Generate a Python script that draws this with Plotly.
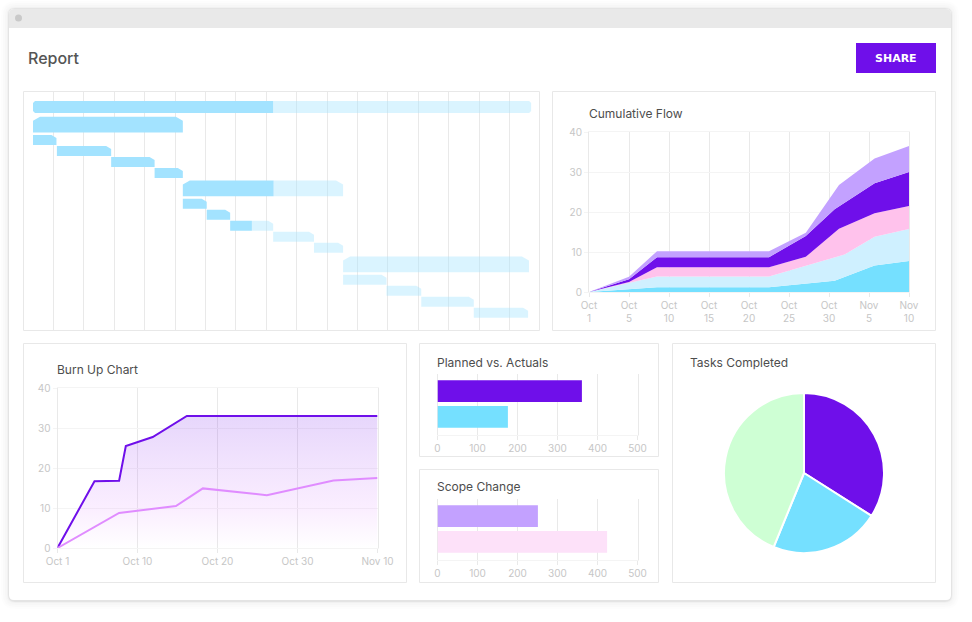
import plotly.graph_objects as go

W, H = 972, 622
PURPLE = "#6F0FEA"
CYAN = "#75E0FF"
LIGHT_BLUE = "#CFF0FF"
PINK = "#FFC2EC"
LILAC = "#C3A1FF"
GANTT_DONE = "#A3E3FF"
GANTT_TODO = "rgba(163,227,255,0.4)"
BORDER = "#E8E8E8"
GRID_X = "#E9E9E9"
GRID_Y = "#F4F4F4"
TICK = "#C6C6C6"
TITLE = "#4D4D4D"
UI_FONT = "Inter"
TITLE_FONT = "Inter"

# Gantt: days from project start, row position, bar kind
gantt_start = [0, 0, 0, 5.5, 18, 28, 34.5, 34.5, 40, 45.4, 55.3, 64.7, 71.4, 71.4, 81.4, 89.4, 101.5]
gantt_done = [55.3, 34.5, 5.4, 18, 28, 34.5, 55.4, 40, 45.4, 50.4, 55.3, 64.7, 71.4, 71.4, 81.4, 89.4, 101.5]
gantt_end = [114.7, 34.5, 5.4, 18, 28, 34.5, 71.4, 40, 45.4, 55.3, 64.7, 71.4, 114.2, 81.4, 89.4, 101.5, 114]
gantt_row = [0, 1.6, 3, 4, 5, 6, 7.4, 8.8, 9.8, 10.8, 11.8, 12.8, 14.3, 15.7, 16.7, 17.7, 18.7]
gantt_kind = ["project", "group", "task", "task", "task", "task", "group", "task", "task",
              "task", "task", "task", "group", "task", "task", "task", "task"]

# Cumulative flow: top edge of each stacked band
flow_ticks = ["Oct<br>1", "Oct<br>5", "Oct<br>10", "Oct<br>15", "Oct<br>20", "Oct<br>25", "Oct<br>30", "Nov<br>5", "Nov<br>10"]
flow_done_x = [0, 1, 1.7, 4.5, 6.14, 7.14, 8]
flow_done = [0, 0.6, 1.2, 1.2, 2.8, 6.6, 7.75]
flow_review_x = [0, 1, 1.7, 4.5, 6.39, 7.14, 8]
flow_review = [0, 2.3, 3.9, 3.9, 9.4, 13.8, 15.75]
flow_testing_x = [0, 1, 1.7, 4.5, 5.42, 6.25, 7.14, 8]
flow_testing = [0, 2.5, 6.2, 6.2, 8.8, 15.8, 19.7, 21.5]
flow_doing_x = [0, 1, 1.7, 4.5, 5.42, 6.14, 7.14, 8]
flow_doing = [0, 3.2, 8.7, 8.7, 14, 20.7, 27.2, 30]
flow_todo_x = [0, 1, 1.7, 4.5, 5.42, 6.25, 7.14, 8]
flow_todo = [0, 3.8, 10.2, 10.2, 14.8, 26.75, 33.4, 36.5]

# Burn up
burn_ticks = ["Oct 1", "Oct 10", "Oct 20", "Oct 30", "Nov 10"]
scope_x = [0, 0.4625, 0.77, 0.854, 1.19, 1.617, 4]
scope_y = [0, 16.7, 16.8, 25.5, 27.75, 33, 33]
done_x = [0, 0.77, 1.48, 1.817, 2.617, 3.45, 4]
done_y = [0, 8.75, 10.5, 14.9, 13.2, 16.85, 17.5]

# Bars and pie
planned_labels = ["Planned", "Actuals"]
planned_values = [361, 176]
scope_labels = ["Added", "Removed"]
scope_values = [251, 424]
pie_labels = ["Completed", "In progress", "Remaining"]
pie_values = [34, 22.2, 43.8]


def px_x(x):
    return x / W


def px_y(y):
    return 1 - y / H


def dom_x(a, b):
    return [px_x(a), px_x(b)]


def dom_y(top, bottom):
    return [px_y(bottom), px_y(top)]


def round_rect(x0, y0, x1, y1, r, top_only=False):
    a, b, c, d = px_x(x0), px_y(y0), px_x(x1), px_y(y1)
    rx, ry = r / W, r / H
    p = f"M{a},{b - ry} Q{a},{b} {a + rx},{b} L{c - rx},{b} Q{c},{b} {c},{b - ry} "
    if top_only:
        p += f"L{c},{d} L{a},{d} Z"
    else:
        p += f"L{c},{d + ry} Q{c},{d} {c - rx},{d} L{a + rx},{d} Q{a},{d} {a},{d + ry} Z"
    return p


fig = go.Figure()

# page furniture
shapes = []
for grow, alpha in [(8, 0.008), (6, 0.01), (4, 0.012), (2, 0.025), (1, 0.05)]:
    shapes.append(dict(type="path", xref="paper", yref="paper", layer="below", line_width=0,
                       fillcolor=f"rgba(0,0,0,{alpha})",
                       path=round_rect(9 - grow, 9 - grow, 951 + grow, 600 + grow + 1, 6 + grow)))
shapes.append(dict(type="path", xref="paper", yref="paper", layer="below", line_width=0,
                   fillcolor="white", path=round_rect(9, 9, 951, 600, 5)))
shapes.append(dict(type="path", xref="paper", yref="paper", layer="below", line_width=0,
                   fillcolor="#E9E9E9", path=round_rect(9, 9, 951, 28, 5, top_only=True)))
shapes.append(dict(type="circle", xref="paper", yref="paper", layer="below", line_width=0,
                   fillcolor="#C9C9C9", x0=px_x(15), x1=px_x(22), y0=px_y(21.5), y1=px_y(14.5)))
shapes.append(dict(type="rect", xref="paper", yref="paper", layer="below", line_width=0,
                   fillcolor=PURPLE, x0=px_x(856), x1=px_x(936), y0=px_y(73), y1=px_y(43)))

panels = [(23.5, 91.5, 539.5, 330.5), (552.5, 91.5, 935.5, 330.5), (23.5, 343.5, 406.5, 582.5),
          (419.5, 343.5, 658.5, 456.5), (419.5, 469.5, 658.5, 582.5), (672.5, 343.5, 935.5, 582.5)]
for x0, y0, x1, y1 in panels:
    shapes.append(dict(type="rect", xref="paper", yref="paper", layer="below",
                       line=dict(color=BORDER, width=1), fillcolor="white",
                       x0=px_x(x0), x1=px_x(x1), y0=px_y(y1), y1=px_y(y0)))

# gantt polygons, cut corners are worked out in screen pixels
DAY = 30.4 / 7
ROW = 11.0
HEIGHT = {"project": 12, "group": 15.7, "task": 10}
CUT = {"project": (2, 2), "group": (7, 4), "task": (5, 3)}


def gantt_poly(x0, x1, row, kind, left, right):
    h = HEIGHT[kind] / 2 / ROW
    top, bot = row - h, row + h
    cx, cy = CUT[kind][0] / DAY, CUT[kind][1] / ROW
    xs, ys = [], []
    if left and kind != "task":
        xs += [x0, x0 + cx]
        ys += [top + cy, top]
    else:
        xs += [x0]
        ys += [top]
    if right:
        xs += [x1 - cx, x1]
        ys += [top, top + cy]
    else:
        xs += [x1]
        ys += [top]
    if kind == "project" and right:
        xs += [x1, x1 - cx]
        ys += [bot - cy, bot]
    else:
        xs += [x1]
        ys += [bot]
    if kind == "project" and left:
        xs += [x0 + cx, x0]
        ys += [bot, bot - cy]
    else:
        xs += [x0]
        ys += [bot]
    xs += [xs[0], None]
    ys += [ys[0], None]
    return xs, ys


done_px, done_py, todo_px, todo_py = [], [], [], []
for s, d, e, r, k in zip(gantt_start, gantt_done, gantt_end, gantt_row, gantt_kind):
    if d > s:
        xs, ys = gantt_poly(s, d, r, k, True, d >= e)
        done_px += xs
        done_py += ys
    if e > d:
        xs, ys = gantt_poly(d, e, r, k, d <= s, True)
        todo_px += xs
        todo_py += ys

fig.add_trace(go.Scatter(x=done_px, y=done_py, mode="lines", fill="toself", fillcolor=GANTT_DONE,
                         line=dict(width=0), hoverinfo="skip", xaxis="x", yaxis="y"))
fig.add_trace(go.Scatter(x=todo_px, y=todo_py, mode="lines", fill="toself", fillcolor=GANTT_TODO,
                         line=dict(width=0), hoverinfo="skip", xaxis="x", yaxis="y"))

# cumulative flow
bands = [(flow_done_x, flow_done, CYAN), (flow_review_x, flow_review, LIGHT_BLUE), (flow_testing_x, flow_testing, PINK),
         (flow_doing_x, flow_doing, PURPLE), (flow_todo_x, flow_todo, LILAC)]
for i, (xs, vals, col) in enumerate(bands):
    fig.add_trace(go.Scatter(x=xs, y=vals, mode="lines", line=dict(width=0), fillcolor=col,
                             fill="tozeroy" if i == 0 else "tonexty", xaxis="x2", yaxis="y2"))

# burn up
fig.add_trace(go.Scatter(x=scope_x, y=scope_y, mode="lines", line=dict(color=PURPLE, width=2),
                         fill="tozeroy", xaxis="x3", yaxis="y3",
                         fillgradient=dict(type="vertical", colorscale=[
                             [0, "rgba(224,140,255,0)"], [0.3, "rgba(224,140,255,0.15)"],
                             [1, "rgba(111,15,234,0.17)"]])))
fig.add_trace(go.Scatter(x=done_x, y=done_y, mode="lines", line=dict(color="#E08CFF", width=2),
                         xaxis="x3", yaxis="y3"))

# bars
fig.add_trace(go.Bar(x=planned_values, y=planned_labels, orientation="h", width=0.846,
                     marker=dict(color=[PURPLE, CYAN], line_width=0), xaxis="x4", yaxis="y4"))
fig.add_trace(go.Bar(x=scope_values, y=scope_labels, orientation="h", width=0.846,
                     marker=dict(color=[LILAC, "#FDE1F9"], line_width=0), xaxis="x5", yaxis="y5"))

# pie
fig.add_trace(go.Pie(labels=pie_labels, values=pie_values, sort=False, direction="clockwise", rotation=0,
                     textinfo="none", marker=dict(colors=[PURPLE, CYAN, "#CEFFD4"], line=dict(color="white", width=2)),
                     domain=dict(x=dom_x(724, 884), y=dom_y(393, 553))))

tickfont = dict(family=UI_FONT, size=10, color=TICK)


# plotly drops grid lines sitting on the range ends, so the axis lines stand in for them
def xstyle(domain, anchor, mirror=True, **kw):
    return dict(domain=domain, anchor=anchor, automargin=False, showgrid=True, gridcolor=GRID_X, gridwidth=1,
                zeroline=False, ticks="outside", ticklen=4, tickcolor=GRID_X, tickfont=tickfont,
                showline=True, linecolor=GRID_Y, mirror=mirror, layer="below traces", **kw)


def ystyle(domain, anchor, **kw):
    return dict(domain=domain, anchor=anchor, automargin=False, showgrid=True, gridcolor=GRID_Y, gridwidth=1,
                zeroline=False, ticks="outside", ticklen=4, tickcolor=GRID_Y, tickfont=tickfont,
                showline=True, linecolor=GRID_X, mirror=True, layer="below traces", **kw)


def bar_y(domain, anchor):
    return dict(domain=domain, anchor=anchor, automargin=False, range=[1.68, -0.68], showticklabels=False, ticks="",
                showgrid=False, zeroline=False, showline=True, linecolor=GRID_X, mirror=True, layer="below traces")


annotations = []
for text, x, y, size, family, color, weight in [
    ("Report", 26, 58, 16, UI_FONT, "#555555", 500),
    ("Cumulative Flow", 587, 114, 12, TITLE_FONT, TITLE, 400),
    ("Burn Up Chart", 55, 369, 12, TITLE_FONT, TITLE, 400),
    ("Planned vs. Actuals", 435, 362, 12, TITLE_FONT, TITLE, 400),
    ("Scope Change", 435, 487, 12, TITLE_FONT, TITLE, 400),
    ("Tasks Completed", 688, 362, 12, TITLE_FONT, TITLE, 400),
]:
    annotations.append(dict(text=text, xref="paper", yref="paper", x=px_x(x), y=px_y(y), xanchor="left",
                            yanchor="middle", showarrow=False,
                            font=dict(family=family, size=size, color=color, weight=weight)))
annotations.append(dict(text="<b>SHARE</b>", xref="paper", yref="paper", x=px_x(896), y=px_y(58.5), xanchor="center",
                        yanchor="middle", showarrow=False, font=dict(family="DejaVu Sans", size=11, color="white")))

fig.update_layout(
    width=W, height=H, margin=dict(l=0, r=0, t=0, b=0), paper_bgcolor="white", plot_bgcolor="rgba(0,0,0,0)",
    showlegend=False, shapes=shapes, annotations=annotations,
    xaxis=dict(domain=dom_x(24, 539), anchor="y", automargin=False, range=[(24 - 33) / DAY, (539 - 33) / DAY],
               tick0=(53.5 - 33) / DAY, dtick=7, showgrid=True, gridcolor=GRID_X, zeroline=False,
               showticklabels=False, ticks=""),
    yaxis=dict(domain=dom_y(92, 330), anchor="x", automargin=False, range=[(330 - 107) / ROW, (92 - 107) / ROW],
               visible=False),
    xaxis2=xstyle(dom_x(589, 909), "y2", range=[0, 8], tickmode="array", tickvals=list(range(9)), ticktext=flow_ticks),
    yaxis2=ystyle(dom_y(132, 292), "x2", range=[0, 40], dtick=10),
    xaxis3=xstyle(dom_x(57.5, 377.5), "y3", range=[0, 4], tickmode="array", tickvals=list(range(5)), ticktext=burn_ticks),
    yaxis3=ystyle(dom_y(388, 548), "x3", range=[0, 40], dtick=10),
    xaxis4=xstyle(dom_x(437.5, 637.5), "y4", mirror=False, range=[0, 500], dtick=100),
    yaxis4=bar_y(dom_y(373.5, 434.5), "x4"),
    xaxis5=xstyle(dom_x(437.5, 637.5), "y5", mirror=False, range=[0, 500], dtick=100),
    yaxis5=bar_y(dom_y(498.5, 559.5), "x5"),
)

fig.write_html("out.html", config={"displayModeBar": False},
               post_script="document.body.style.margin='0';document.body.style.overflow='hidden';")
